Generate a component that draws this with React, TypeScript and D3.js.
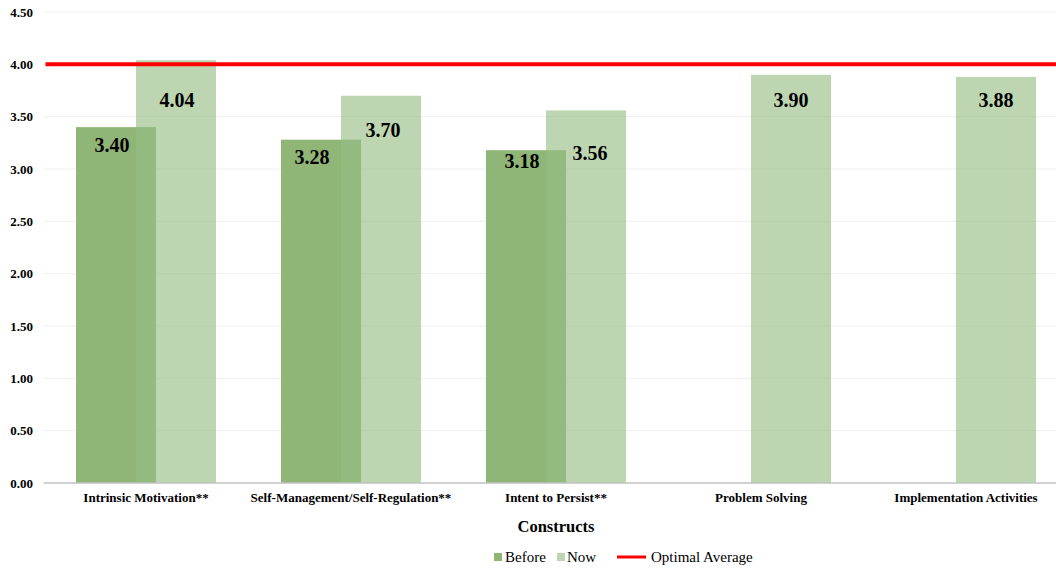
import React from "react";
import * as d3 from "d3";

const categories = [
  "Intrinsic Motivation**",
  "Self-Management/Self-Regulation**",
  "Intent to Persist**",
  "Problem Solving",
  "Implementation Activities",
];
const beforeValues: (number | null)[] = [3.4, 3.28, 3.18, null, null];
const nowValues: number[] = [4.04, 3.7, 3.56, 3.9, 3.88];
const optimalAverage = 4.0;
const yTicks = [0, 0.5, 1, 1.5, 2, 2.5, 3, 3.5, 4, 4.5];
// label offsets relative to bar top / bar centre (style)
const beforeLabelDy = [25, 24, 18, 0, 0];
const beforeLabelDx = [-4, -9, -4, 0, 0];
const nowLabelDy = [47, 41, 50, 32, 30];
const nowLabelDx = [1, 2, 4, 0, 0];

const W = 1056;
const H = 569;
const plotLeft = 43.5;
const plotRight = 1068.5;
const yTop = 12;
const yBottom = 483;
const barW = 80;
const overlap = 20;

export default function App() {
  const x = d3.scaleBand<string>().domain(categories).range([plotLeft, plotRight]).padding(0);
  const y = d3.scaleLinear().domain([0, 4.5]).range([yBottom, yTop]);
  const serif = "'Liberation Serif', 'Times New Roman', serif";
  const beforeColor = "#8fb577";
  const nowColor = "rgb(151,191,132)";
  const nowOpacity = 0.635;
  const groupW = barW * 2 - overlap;

  return (
    <svg
      width={W}
      height={H}
      style={{ position: "absolute", left: 0, top: 0, background: "#fff", fontFamily: serif }}
    >
      {yTicks.map((t) => (
        <g key={t}>
          {t > 0 && (
            <line x1={plotLeft} x2={W} y1={y(t)} y2={y(t)} stroke="#eeeeee" strokeWidth={1} />
          )}
          <text x={33} y={y(t)} dy="0.35em" textAnchor="end" fontSize={13} fontWeight="bold" style={{ fontFamily: serif }}>
            {d3.format(".2f")(t)}
          </text>
        </g>
      ))}
      {categories.map((c, i) => {
        const cx = x(c)! + x.bandwidth() / 2;
        const bx = cx - groupW / 2;
        const nx = bx + barW - overlap;
        const bv = beforeValues[i];
        const nv = nowValues[i];
        return (
          <g key={c}>
            {bv != null && (
              <rect x={bx} y={y(bv)} width={barW} height={y(0) - y(bv)} fill={beforeColor} />
            )}
            <rect
              x={nx}
              y={y(nv)}
              width={barW}
              height={y(0) - y(nv)}
              fill={nowColor}
              fillOpacity={nowOpacity}
            />
          </g>
        );
      })}
      <line x1={plotLeft} x2={W} y1={y(0)} y2={y(0)} stroke="#c0c0c0" strokeWidth={1.5} />
      <line
        x1={plotLeft + 2}
        x2={W}
        y1={y(optimalAverage)}
        y2={y(optimalAverage)}
        stroke="#ff0000"
        strokeWidth={4}
      />
      {categories.map((c, i) => {
        const cx = x(c)! + x.bandwidth() / 2;
        const bx = cx - groupW / 2;
        const nx = bx + barW - overlap;
        const bv = beforeValues[i];
        const nv = nowValues[i];
        return (
          <g key={c + "l"} fontWeight="bold" fontSize={20} style={{ fontFamily: serif }}>
            {bv != null && (
              <text x={bx + barW / 2 + beforeLabelDx[i]} y={y(bv) + beforeLabelDy[i]} textAnchor="middle">
                {d3.format(".2f")(bv)}
              </text>
            )}
            <text x={nx + barW / 2 + nowLabelDx[i]} y={y(nv) + nowLabelDy[i]} textAnchor="middle">
              {d3.format(".2f")(nv)}
            </text>
            <text x={cx} y={502} textAnchor="middle" fontSize={13}>
              {c}
            </text>
          </g>
        );
      })}
      <text x={556} y={532} textAnchor="middle" fontSize={16.5} fontWeight="bold" style={{ fontFamily: serif }}>
        Constructs
      </text>
      <g fontSize={15} style={{ fontFamily: serif }}>
        <rect x={494} y={553} width={8} height={8} fill={beforeColor} />
        <text x={505} y={562}>Before</text>
        <rect x={557} y={553} width={8} height={8} fill={nowColor} fillOpacity={nowOpacity} />
        <text x={567} y={562}>Now</text>
        <line x1={617} x2={646} y1={557} y2={557} stroke="#ff0000" strokeWidth={3} />
        <text x={651} y={562}>Optimal Average</text>
      </g>
    </svg>
  );
}
